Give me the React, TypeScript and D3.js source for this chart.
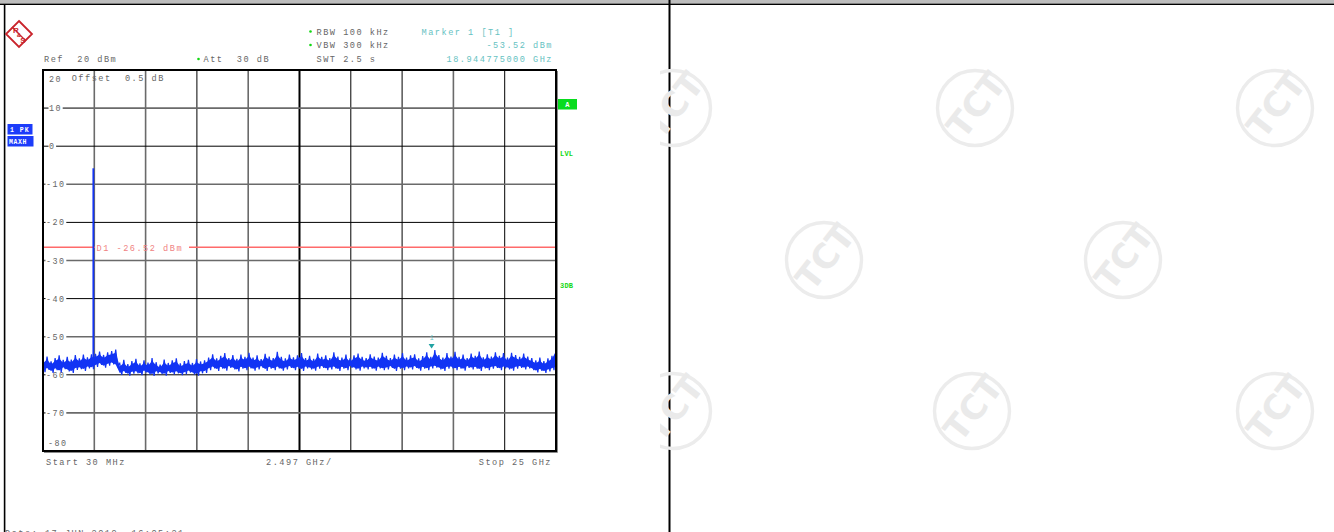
import React from 'react';
import * as d3 from 'd3';

// ---- values ----
const startGHz = 0.03;
const stopGHz = 25;
const refLevel = 20;
const bottomLevel = -80;
const yTicks = [10, 0, -10, -20, -30, -40, -50, -60, -70];
const xDivisions = 10;

// max-hold noise band, upper and lower edge per sweep bin (dBm)
const traceHigh = [
  -56.2, -55.2, -56.5, -55.6, -54.9, -56.1, -55.3, -56.0, -54.8, -55.7, -54.7, -55.4, -54.6,
  -54.5, -53.9, -54.8, -54.1, -53.8, -53.4,
  -57.0, -56.1, -57.2, -56.4, -55.8, -57.0, -56.2, -56.8, -55.6, -56.7, -57.3, -56.0, -56.9,
  -56.2, -55.7, -57.0, -56.4, -56.1, -56.9, -55.9, -56.5, -56.2,
  -55.5, -54.6, -55.7, -55.0, -54.3, -55.6, -54.8, -55.8, -54.7, -55.3,
  -54.2, -55.5, -54.9, -55.9, -54.5, -55.2, -55.6, -54.0, -55.3, -55.7,
  -54.7, -55.4, -54.9, -54.3, -55.6, -55.0, -55.8, -54.4, -55.3, -54.9,
  -55.6, -54.1, -55.2, -55.5, -54.7, -55.7, -54.9, -54.4, -55.3, -55.6,
  -54.6, -55.2, -55.5, -54.2, -55.0, -55.6, -54.7, -55.3, -54.3, -55.5,
  -54.9, -54.6, -55.7, -55.1, -54.1, -55.3, -53.5, -54.8, -55.5, -54.3,
  -55.2, -54.0, -55.3, -54.7, -55.6, -54.4, -55.0, -53.9, -55.4, -54.6,
  -55.2, -54.1, -55.0, -54.3, -55.5, -54.2, -54.8, -55.3, -54.4, -55.2,
  -55.6,
  -56.2, -55.5, -56.4, -55.7, -55.0,
  -53.0,
];
const traceLow = [
  -59.3, -58.7, -59.5, -58.8, -59.4, -58.5, -59.1, -59.5, -58.7, -58.5, -59.0, -58.3, -58.5,
  -57.9, -57.4, -58.1, -57.6, -57.3, -57.8,
  -60.0, -59.5, -60.2, -59.7, -59.6, -60.1, -59.4, -59.9, -60.3, -59.6, -59.8, -60.2, -59.5,
  -59.9, -59.6, -60.1, -59.8, -59.4, -59.9, -60.2, -59.6, -59.5,
  -58.8, -58.3, -59.0, -58.4, -58.9, -58.2, -58.6, -59.1, -58.4, -58.8,
  -58.3, -58.9, -58.6, -58.2, -59.0, -58.4, -58.8, -58.3, -58.9, -58.6,
  -58.2, -58.8, -58.4, -59.0, -58.3, -58.6, -58.9, -58.4, -58.2, -58.8,
  -58.6, -58.3, -59.0, -58.4, -58.8, -58.2, -58.6, -58.9, -58.3, -58.6,
  -58.4, -58.9, -58.3, -58.8, -58.6, -58.2, -59.0, -58.4, -58.8, -58.3,
  -58.6, -58.2, -58.9, -58.4, -58.8, -58.3, -58.1, -58.6, -59.0, -58.4,
  -58.3, -58.8, -58.4, -58.9, -58.2, -58.6, -58.4, -59.0, -58.3, -58.8,
  -58.4, -58.2, -58.8, -58.3, -58.6, -58.9, -58.4, -58.2, -58.6, -58.3,
  -58.8,
  -59.4, -59.0, -59.5, -59.1, -58.8,
  -58.2,
];

const carrierGHz = 2.48;
const carrierLevel = -5.8;
const markerGHz = 18.944775;
const markerLevel = -53.52;
const d1Level = -26.52;

const watermarks = [
  [673, 108], [975, 108], [1275, 108],
  [824, 260], [1123, 260],
  [673, 411], [972, 411], [1275, 411],
];

// grid line look, index 1..9 (R&S prints some darker/heavier than others)
const vGridLook = ['', 'g', 'g', 'k', 'g', 'b', 'k', 'k', 'g', 'k'];
const hGridLook = ['', 'g', 'k', 'g', 'k', 'g', 'k', 'g', 'k', 'g'];

const W = 1334;
const H = 532;
const plot = { left: 43, right: 556, top: 70, bottom: 451 };

const mono = '"Liberation Mono", "DejaVu Sans Mono", monospace';
const textGray = '#666';
const teal = '#66c2c2';
const green = '#12d812';
const traceBlue = '#1234f4';

const lookStyle = (k: string) =>
  k === 'g' ? { stroke: '#6a6a6a', w: 1.6 } : k === 'b' ? { stroke: '#000', w: 2 } : { stroke: '#000', w: 1 };

const Label: React.FC<{ x: number; y: number; fill?: string; anchor?: string; size?: number; children: React.ReactNode }> = ({
  x, y, fill = textGray, anchor = 'start', size = 8.6, children,
}) => (
  <text
    x={x}
    y={y}
    fill={fill}
    textAnchor={anchor}
    fontFamily={mono}
    fontSize={size}
    letterSpacing={1.5}
    style={{ whiteSpace: 'pre' }}
  >
    {children}
  </text>
);

const App: React.FC = () => {
  const x = d3.scaleLinear().domain([startGHz, stopGHz]).range([plot.left, plot.right]);
  const y = d3.scaleLinear().domain([bottomLevel, refLevel]).range([plot.bottom, plot.top]);

  const step = (stopGHz - startGHz) / (traceHigh.length - 1);
  const bins = traceHigh.map((hi, i) => ({
    f: startGHz + i * step,
    hi,
    lo: traceLow[i],
  }));

  // zig-zag between top and bottom of each bin gives the dense max-hold look
  const zig: [number, number][] = [];
  bins.forEach((b) => {
    zig.push([b.f, b.hi]);
    zig.push([Math.min(stopGHz, b.f + step / 2), b.lo]);
  });

  const line = d3.line<[number, number]>().x((d) => x(d[0])).y((d) => y(d[1]));
  // solid core of the band, slightly inside the edges so the zig-zag tips stick out
  const band = d3
    .area<{ f: number; hi: number; lo: number }>()
    .x((d) => x(d.f))
    .y0((d) => y(d.lo + 0.5))
    .y1((d) => y(d.hi - 0.8));

  const divW = (plot.right - plot.left) / xDivisions;
  const d1y = y(d1Level);
  const mx = x(markerGHz);
  const my = y(markerLevel);

  return (
    <svg
      width={W}
      height={H}
      style={{ position: 'absolute', left: 0, top: 0, background: '#fff' }}
    >
      <defs>
        <clipPath id="wm">
          <rect x={660} y={0} width={W - 660} height={H} />
        </clipPath>
        <clipPath id="plotClip">
          <rect x={plot.left} y={plot.top} width={plot.right - plot.left} height={plot.bottom - plot.top} />
        </clipPath>
      </defs>

      {/* page frame */}
      <rect x={0} y={0} width={W} height={3} fill="#bdbdbd" />
      <line x1={0} x2={W} y1={4.2} y2={4.2} stroke="#000" strokeWidth={1.6} />
      <line x1={4.6} x2={4.6} y1={4} y2={H} stroke="#000" strokeWidth={1.6} />
      <line x1={669.5} x2={669.5} y1={0} y2={H} stroke="#000" strokeWidth={2} />

      {/* watermarks */}
      <g clipPath="url(#wm)">
        {watermarks.map(([cx, cy], i) => (
          <g key={i}>
            <circle cx={cx} cy={cy} r={37.5} fill="none" stroke="#ececec" strokeWidth={3.4} />
            <text
              x={cx + 1}
              y={cy - 3}
              transform={`rotate(-52 ${cx + 1} ${cy - 3})`}
              textAnchor="middle"
              dominantBaseline="central"
              fontFamily='"DejaVu Sans", sans-serif'
              fontWeight="bold"
              fontSize={34}
              letterSpacing={0}
              fill="#eaeaea"
            >
              TCT
            </text>
          </g>
        ))}
      </g>

      {/* R&S logo */}
      <g transform="translate(19,34)" stroke="#c9242c" fill="none">
        <path d="M0,-13 L13,0 L0,13 L-13,0 Z" strokeWidth={1.8} />
        <path d="M-7,-7 L7,7" strokeWidth={1.2} />
        <text x={-3} y={-1} fontSize={8} fontWeight="bold" fill="#c9242c" stroke="none" fontFamily="Arial, sans-serif" textAnchor="middle">R</text>
        <text x={0} y={3} fontSize={6} fontWeight="bold" fill="#c9242c" stroke="none" fontFamily="Arial, sans-serif" textAnchor="middle">&amp;</text>
        <text x={4} y={9} fontSize={8} fontWeight="bold" fill="#c9242c" stroke="none" fontFamily="Arial, sans-serif" textAnchor="middle">S</text>
      </g>

      {/* header settings */}
      <circle cx={310.5} cy={31.5} r={1.3} fill={green} />
      <Label x={316.5} y={34.5}>RBW 100 kHz</Label>
      <circle cx={310.5} cy={45} r={1.3} fill={green} />
      <Label x={316.5} y={48}>VBW 300 kHz</Label>
      <Label x={316.5} y={62}>SWT 2.5 s</Label>
      <Label x={44} y={62}>Ref  20 dBm</Label>
      <circle cx={198.5} cy={59} r={1.3} fill={green} />
      <Label x={203.5} y={62}>Att  30 dB</Label>

      <Label x={421.5} y={35} fill={teal}>Marker 1 [T1 ]</Label>
      <Label x={553} y={48} fill={teal} anchor="end">-53.52 dBm</Label>
      <Label x={553} y={62} fill={teal} anchor="end">18.944775000 GHz</Label>

      {/* side flags */}
      <rect x={7.5} y={124} width={25} height={10.5} fill="#1c3cfa" />
      <text x={10} y={132} fontFamily={mono} fontSize={6.5} fontWeight="bold" fill="#fff" letterSpacing={1} style={{ whiteSpace: 'pre' }}>1 PK</text>
      <rect x={7.5} y={136} width={26} height={10.5} fill="#1c3cfa" />
      <text x={9} y={144} fontFamily={mono} fontSize={6.5} fontWeight="bold" fill="#fff" letterSpacing={0.6}>MAXH</text>

      <rect x={557.7} y={99} width={19.3} height={10.5} fill="#08dc1e" />
      <text x={567.3} y={107} textAnchor="middle" fontFamily={mono} fontSize={7} fontWeight="bold" fill="#fff">A</text>
      <text x={560} y={156} fontFamily={mono} fontSize={7} fontWeight="bold" fill={green} letterSpacing={0.2}>LVL</text>
      <text x={560} y={288} fontFamily={mono} fontSize={7} fontWeight="bold" fill={green} letterSpacing={0.2}>3DB</text>

      {/* grid */}
      {d3.range(1, xDivisions).map((i) => {
        const s = lookStyle(vGridLook[i]);
        const gx = plot.left + i * divW;
        return <line key={`v${i}`} x1={gx} x2={gx} y1={plot.top} y2={plot.bottom} stroke={s.stroke} strokeWidth={s.w} />;
      })}
      {yTicks.map((t, i) => {
        const s = lookStyle(hGridLook[i + 1]);
        return <line key={`h${t}`} x1={plot.left} x2={plot.right} y1={y(t)} y2={y(t)} stroke={s.stroke} strokeWidth={s.w} />;
      })}

      {/* level labels inside the grid */}
      {yTicks.map((t) => {
        const txt = String(t);
        const tx = t < 0 ? 46 : 49;
        const tw = txt.length * 6.6;
        return (
          <g key={`l${t}`}>
            <rect x={tx - 0.5} y={y(t) - 4} width={tw + 1} height={8} fill="#fff" />
            <Label x={tx} y={y(t) + 3} size={8.4}>{txt}</Label>
          </g>
        );
      })}
      <Label x={49} y={82} size={8.4}>{String(refLevel)}</Label>
      <Label x={48} y={446} size={8.4}>{String(bottomLevel)}</Label>
      <Label x={71.7} y={81}>Offset  0.5 dB</Label>

      {/* display line D1 */}
      <line x1={plot.left} x2={95} y1={d1y} y2={d1y} stroke="#ff6a6a" strokeWidth={1.5} />
      <line x1={189} x2={plot.right} y1={d1y} y2={d1y} stroke="#ff6a6a" strokeWidth={1.5} />
      <Label x={96.5} y={250.5} fill="#f08282">D1 -26.52 dBm</Label>

      {/* trace */}
      <g clipPath="url(#plotClip)">
        <path d={band(bins) || ''} fill={traceBlue} />
        <path d={line(zig) || ''} fill="none" stroke={traceBlue} strokeWidth={1.2} />
        <line
          x1={x(carrierGHz)}
          x2={x(carrierGHz)}
          y1={y(-57.5)}
          y2={y(carrierLevel)}
          stroke={traceBlue}
          strokeWidth={1.8}
        />
      </g>

      {/* marker 1 */}
      <path d={`M${mx - 3},${my - 6} L${mx + 3},${my - 6} L${mx},${my - 1.5} Z`} fill="#22a3a3" />
      <text x={mx} y={my - 10.5} textAnchor="middle" fontFamily={mono} fontSize={6.5} fill={teal}>1</text>

      {/* frame */}
      <line x1={plot.right + 1.5} x2={plot.right + 1.5} y1={plot.top + 1} y2={plot.bottom + 1.5} stroke="#8a8a8a" strokeWidth={1} />
      <line x1={plot.left + 1} x2={plot.right + 1.5} y1={plot.bottom + 1.5} y2={plot.bottom + 1.5} stroke="#8a8a8a" strokeWidth={1} />
      <rect
        x={plot.left}
        y={plot.top}
        width={plot.right - plot.left}
        height={plot.bottom - plot.top}
        fill="none"
        stroke="#000"
        strokeWidth={2}
      />

      {/* footer */}
      <Label x={46} y={464.5}>Start 30 MHz</Label>
      <Label x={266} y={464.5}>2.497 GHz/</Label>
      <Label x={552} y={464.5} anchor="end">Stop 25 GHz</Label>
      <Label x={5} y={536}>Date: 17.JUN.2019  16:05:21</Label>
    </svg>
  );
};

export default App;
